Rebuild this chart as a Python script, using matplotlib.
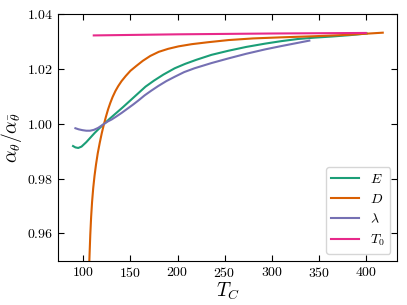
import matplotlib
matplotlib.use('Agg')
import matplotlib.pyplot as plt

# Valores
e_x = [89, 91.5, 94.5, 98, 103, 107.5, 112, 117, 122, 128, 135, 142, 150, 158, 166, 175,
       185, 197, 208, 220, 236, 254, 273, 293, 310, 328, 346, 364, 383, 401]
e_y = [0.9919, 0.9914, 0.9912, 0.9917, 0.9933, 0.9950, 0.9967, 0.9984, 1.0000, 1.0019,
       1.0040, 1.0061, 1.0086, 1.0111, 1.0136, 1.0158, 1.0180, 1.0203, 1.0219, 1.0234,
       1.0252, 1.0267, 1.0281, 1.0293, 1.0302, 1.0310, 1.0315, 1.0319, 1.0324, 1.0330]

d_x = [105.8, 106.5, 107.3, 108.2, 109.2, 110.4, 111.8, 113.4, 115.2, 117.3, 119.5, 121.9,
       124, 126.2, 128.5, 131, 134, 137, 140.5, 145, 150, 156, 163, 171, 180, 190, 201,
       215, 232, 254, 280, 310, 345, 380, 418]
d_y = [0.945, 0.952, 0.9595, 0.9660, 0.9715, 0.9765, 0.9810, 0.9852, 0.9892, 0.9930,
       0.9966, 1.0000, 1.0027, 1.0053, 1.0076, 1.0098, 1.0120, 1.0138, 1.0156, 1.0175,
       1.0194, 1.0211, 1.0230, 1.0248, 1.0263, 1.0274, 1.0283, 1.0291, 1.0298, 1.0306,
       1.0312, 1.0316, 1.0320, 1.0325, 1.0333]

lam_x = [91.5, 95, 99, 103, 107, 111, 115.5, 119, 121.9, 126, 130, 135, 141, 147, 153,
         159, 165, 172, 179.4, 188, 197, 207, 218, 236, 254, 273, 293, 310, 325, 340]
lam_y = [0.9984, 0.9980, 0.9977, 0.9975, 0.9975, 0.9978, 0.9985, 0.9993, 1.0000, 1.0009,
         1.0016, 1.0027, 1.0041, 1.0056, 1.0071, 1.0087, 1.0104, 1.0121, 1.0138, 1.0156,
         1.0172, 1.0189, 1.0203, 1.0222, 1.0239, 1.0256, 1.0272, 1.0284, 1.0294, 1.0304]

t0_x = [111, 200, 300, 400]
t0_y = [1.0323, 1.0327, 1.0330, 1.0332]

plt.rcParams['font.family'] = 'serif'
plt.rcParams['font.serif'] = ['cmr10']
plt.rcParams['mathtext.fontset'] = 'cm'
plt.rcParams['axes.formatter.use_mathtext'] = True

fig = plt.figure(figsize=(4.07, 3.05), dpi=100)
ax = fig.add_axes([0.1425, 0.145, 0.834, 0.808])

ax.plot(e_x, e_y, color='#1b9e77', lw=1.5, label=r'$E$')
ax.plot(d_x, d_y, color='#d95f02', lw=1.5, label=r'$D$')
ax.plot(lam_x, lam_y, color='#7570b3', lw=1.5, label=r'$\lambda$')
ax.plot(t0_x, t0_y, color='#e7298a', lw=1.5, label=r'$T_0$')

ax.set_xlim(73, 433.6)
ax.set_ylim(0.95, 1.04)
ax.set_xticks([100, 150, 200, 250, 300, 350, 400])
ax.set_yticks([0.96, 0.98, 1.00, 1.02, 1.04])
ax.tick_params(direction='in', top=True, right=True, length=4, labelsize=10)

ax.set_xlabel(r'$T_C$', fontsize=14, labelpad=1)
ax.set_ylabel(r'$\alpha_{\theta}/\alpha_{\bar{\theta}}$', fontsize=14, labelpad=2)

ax.legend(loc='lower right', fontsize=10)

fig.savefig('out.png', dpi=100)
